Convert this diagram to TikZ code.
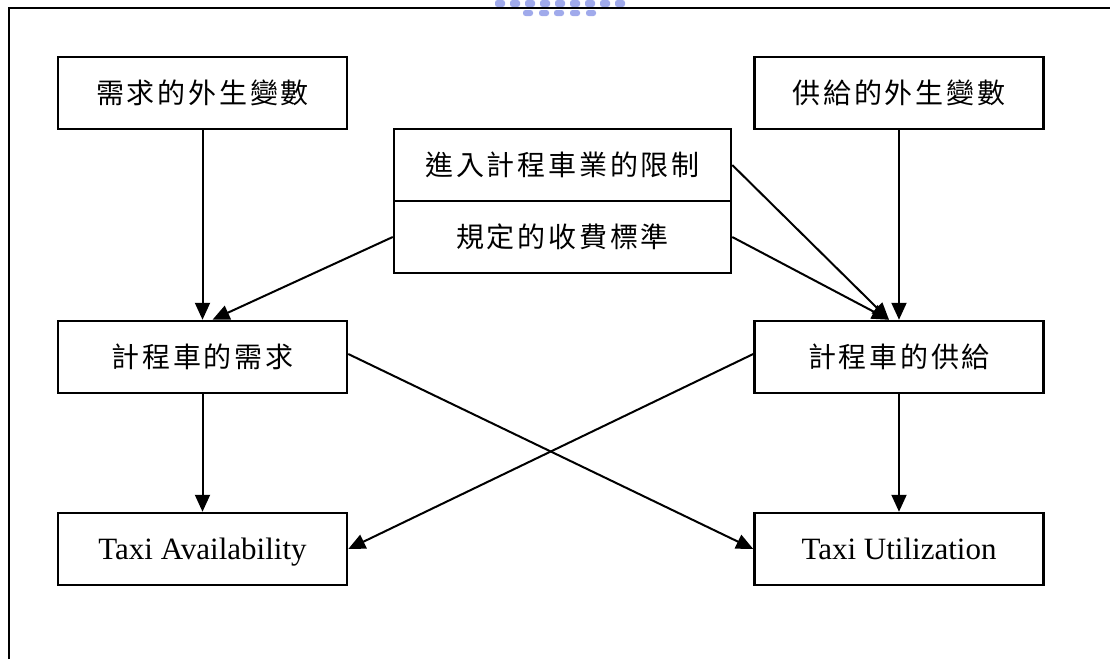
\documentclass[tikz,border=0pt]{standalone}
\usepackage{fontspec}
\setmainfont{Liberation Serif}
\newfontfamily\cjk[LetterSpace=10]{Noto Sans CJK TC}
\usetikzlibrary{arrows.meta}
\definecolor{wm}{RGB}{160,170,235}
\tikzset{
  box/.style={draw, line width=2.5pt, minimum width=289pt, minimum height=72pt, inner sep=0pt, text height=21pt, text depth=0pt, font=\cjk\fontsize{28}{32}\selectfont},
  latinbox/.style={box, text height=20pt, font=\fontsize{31}{36}\selectfont},
  wide/.style={box, minimum width=337pt},
  conn/.style={line width=2pt, -{Triangle[length=17pt,width=15pt]}},
  frame/.style={line width=2.5pt},
  wmdot/.style={fill=wm, rounded corners=2.5pt}
}
\begin{document}
\begin{tikzpicture}[x=1pt,y=-1pt]
\useasboundingbox (0,0) rectangle (1110,659);
% watermark fragment
\foreach \x in {495,510,525,540,555,570,585,600,615}
  \fill[wmdot] (\x,0) rectangle ++(10,7);
\foreach \x in {527,543,558,574,590}
  \fill[wmdot] (\x-4,10) rectangle ++(10,6);
% frame
\coordinate (fl) at (9,659);
\coordinate (fc) at (9,8);
\coordinate (fr) at (1110,8);
\draw[frame] (fl) -- (fc) -- (fr);
% nodes
\node[box] (dext) at (202.5,93) {需求的外生變數};
\node[box] (sext) at (899,93) {供給的外生變數};
\node[wide] (entry) at (562.5,165) {進入計程車業的限制};
\node[wide] (fare) at (562.5,237) {規定的收費標準};
\node[box] (dem) at (202.5,357) {計程車的需求};
\node[box] (sup) at (899,357) {計程車的供給};
\node[latinbox] (avail) at (202.5,549) {Taxi Availability};
\node[latinbox] (util) at (899,549) {Taxi Utilization};
% connectors
\draw[conn] (dext) -- (dem);
\draw[conn] (sext) -- (sup);
\draw[conn] (fare.west) -- ([xshift=10pt]dem.north);
\draw[conn] (entry.east) -- ([xshift=-10pt]sup.north);
\draw[conn] (fare.east) -- ([xshift=-10pt]sup.north);
\draw[conn] (dem) -- (avail);
\draw[conn] (sup) -- (util);
\draw[conn] ([yshift=3pt]dem.east) -- (util.west);
\draw[conn] ([yshift=3pt]sup.west) -- (avail.east);
\end{tikzpicture}
\end{document}
